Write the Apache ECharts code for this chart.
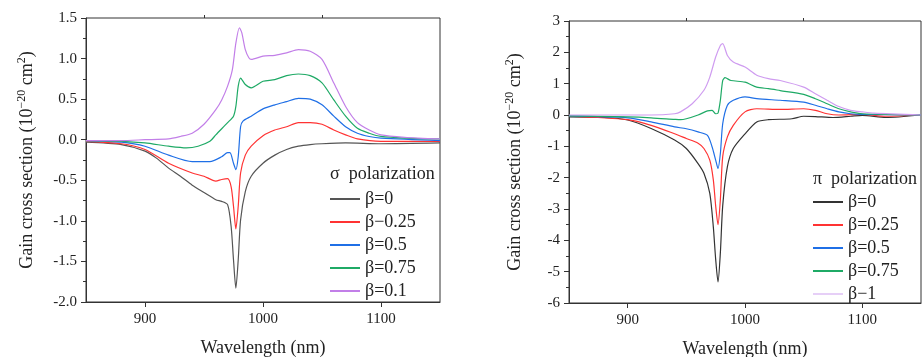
<!DOCTYPE html>
<html><head><meta charset="utf-8">
<script src="https://cdn.jsdelivr.net/npm/echarts@6/dist/echarts.min.js"></script>
<style>html,body{margin:0;padding:0;background:#fff}#c{width:923px;height:357px}</style>
</head><body><div id="c"></div>
<script>
// ---- Left panel (sigma polarization) ----
const sigmaX0 = [850,880,900,910,920,930,940,950,960,965,970,973,975,977,979,981,985,990,1000,1010,1020,1030,1040,1050,1070,1100,1150];
const sigmaB0 = [-0.03,-0.06,-0.14,-0.23,-0.35,-0.45,-0.56,-0.65,-0.74,-0.76,-0.80,-1.07,-1.48,-1.83,-1.48,-0.99,-0.64,-0.45,-0.29,-0.19,-0.12,-0.08,-0.06,-0.05,-0.04,-0.05,-0.04];
const sigmaX25 = [850,880,900,920,940,950,960,965,970,973,975,977,979,981,985,990,1000,1010,1020,1030,1040,1050,1060,1070,1080,1100,1150];
const sigmaB25 = [-0.02,-0.05,-0.12,-0.29,-0.41,-0.45,-0.51,-0.49,-0.48,-0.58,-0.82,-1.10,-0.82,-0.41,-0.19,-0.08,0.05,0.12,0.16,0.21,0.21,0.19,0.12,0.06,0.01,-0.02,-0.02];
const sigmaX50 = [850,880,900,920,940,955,965,970,972,975,977,979,981,983,990,1000,1010,1020,1030,1040,1050,1060,1070,1080,1090,1100,1150];
const sigmaB50 = [-0.01,-0.03,-0.08,-0.19,-0.27,-0.27,-0.21,-0.16,-0.16,-0.29,-0.37,-0.21,0.16,0.23,0.29,0.38,0.43,0.47,0.51,0.50,0.43,0.29,0.16,0.08,0.04,0.02,-0.01];
const sigmaX75 = [850,880,900,920,935,945,955,960,970,975,977,979,981,985,990,1000,1010,1020,1030,1040,1050,1060,1070,1080,1090,1100,1120,1150];
const sigmaB75 = [-0.01,-0.02,-0.04,-0.08,-0.10,-0.08,-0.02,0.06,0.21,0.29,0.41,0.66,0.76,0.68,0.64,0.72,0.74,0.79,0.81,0.79,0.70,0.49,0.29,0.14,0.08,0.04,0.02,0.01];
const sigmaX10 = [850,880,900,920,930,940,950,960,965,970,974,977,980,982,985,988,990,1000,1010,1020,1030,1040,1050,1060,1070,1080,1090,1100,1120,1150];
const sigmaB10 = [-0.01,-0.01,0,0.01,0.04,0.08,0.19,0.37,0.49,0.66,0.86,1.19,1.38,1.32,1.11,1.01,0.99,1.03,1.04,1.07,1.11,1.09,0.99,0.70,0.41,0.21,0.12,0.06,0.03,0.01];

// ---- Right panel (pi polarization) ----
const piX0 = [850,880,900,920,940,950,960,965,970,973,975,977,979,981,985,990,1000,1010,1020,1040,1050,1060,1075,1090,1100,1120,1150];
const piB0 = [-0.06,-0.08,-0.16,-0.43,-0.80,-1.07,-1.55,-1.86,-2.5,-3.57,-4.6,-5.33,-4.4,-2.9,-1.65,-1.07,-0.6,-0.22,-0.15,-0.12,-0.04,-0.05,-0.08,-0.04,-0.01,-0.08,0];
const piX25 = [850,900,920,940,950,960,965,970,973,975,977,979,981,985,990,1000,1010,1030,1050,1060,1070,1080,1100,1120,1150];
const piB25 = [-0.04,-0.15,-0.33,-0.6,-0.75,-0.9,-1.07,-1.44,-2.07,-2.9,-3.5,-2.7,-1.33,-0.7,-0.33,0.1,0.2,0.18,0.2,0.15,0.04,0,0.02,-0.04,0];
const piX50 = [850,900,920,940,950,960,968,972,975,977,979,981,985,990,1000,1010,1030,1050,1060,1070,1080,1090,1100,1150];
const piB50 = [-0.03,-0.09,-0.22,-0.38,-0.44,-0.54,-0.65,-1.02,-1.44,-1.71,-1.23,-0.28,0.31,0.47,0.58,0.52,0.47,0.41,0.31,0.2,0.1,0.04,0.02,0];
const piX75 = [850,900,920,940,945,950,960,968,972,975,977,979,981,983,988,1000,1010,1020,1030,1050,1060,1070,1080,1090,1100,1150];
const piB75 = [-0.03,-0.06,-0.09,-0.14,-0.15,-0.12,0,0.13,0.15,0.04,0.06,0.47,1.1,1.19,1.1,1.05,0.89,0.84,0.78,0.66,0.52,0.36,0.2,0.1,0.04,0];
const piX100 = [850,900,920,940,945,955,965,970,975,979,981,985,990,1000,1010,1020,1030,1050,1060,1070,1080,1090,1100,1110,1150];
const piB100 = [0,0,0,0.04,0.1,0.36,0.79,1.21,1.85,2.22,2.28,1.9,1.69,1.53,1.27,1.16,1.1,0.89,0.68,0.47,0.27,0.15,0.1,0.06,0];

const sigmaNames = ['β=0','β−0.25','β=0.5','β=0.75','β=0.1'];
const piNames = ['β=0','β=0.25','β=0.5','β=0.75','β−1'];
const xTicks = [900,1000,1100];
const xMinorTicks = [950,1050];

const sigmaColors = ['#555555','#ff3333','#1f6fe6','#1faa66','#c27fe8'];
const piColors = ['#333333','#ff3333','#1f6fe6','#1faa66','#cf9cf0'];
const piLegendColors = ['#333333','#ff3333','#1f6fe6','#1faa66','#e6cff7'];

const FONT = "'Liberation Serif', 'Times New Roman', serif";
const zip = (xs, ys) => xs.map((x, i) => [x, ys[i]]);

const sigmaData = [zip(sigmaX0,sigmaB0),zip(sigmaX25,sigmaB25),zip(sigmaX50,sigmaB50),zip(sigmaX75,sigmaB75),zip(sigmaX10,sigmaB10)];
const piData = [zip(piX0,piB0),zip(piX25,piB25),zip(piX50,piB50),zip(piX75,piB75),zip(piX100,piB100)];

const grids = [
  {left:86, top:18, width:354, height:284, show:true, borderColor:'#333', borderWidth:1, containLabel:false, outerBoundsMode:'none'},
  {left:569, top:21, width:352, height:282, show:true, borderColor:'#333', borderWidth:1, containLabel:false, outerBoundsMode:'none'}
];

function xAxes(gi){
  return [{
    type:'value', gridIndex:gi, min:850, max:1150, interval:50,
    axisLine:{onZero:false, lineStyle:{color:'#333',width:1}},
    axisTick:{customValues:xTicks, length:5, lineStyle:{color:'#333'}},
    axisLabel:{customValues:xTicks, formatter:v=>String(v), color:'#222', fontFamily:FONT, fontSize:15, margin:10},
    splitLine:{show:false},
    name:'Wavelength (nm)', nameLocation:'middle', nameGap:37,
    nameTextStyle:{color:'#222', fontFamily:FONT, fontSize:18}
  },{
    type:'value', gridIndex:gi, min:850, max:1150, interval:50,
    axisLine:{show:false, onZero:false},
    axisTick:{customValues:xMinorTicks, length:3, lineStyle:{color:'#333'}},
    axisLabel:{show:false}, splitLine:{show:false}
  }];
}

const yName = '{a|Gain cross section (10}{s|−20}{a| cm}{s|2}{a|)}';
const nameRich = {
  a:{fontFamily:FONT, fontSize:18, color:'#222', lineHeight:20, verticalAlign:'bottom'},
  s:{fontFamily:FONT, fontSize:12, color:'#222', lineHeight:20, verticalAlign:'top'}
};

const option = {
  animation:false,
  backgroundColor:'#fff',
  textStyle:{fontFamily:FONT},
  grid:grids,
  title:[
    {text:'σ  polarization', left:330, top:165, padding:0, textStyle:{fontFamily:FONT, fontSize:18, fontWeight:'normal', color:'#222'}},
    {text:'π  polarization', left:813, top:170, padding:0, textStyle:{fontFamily:FONT, fontSize:18, fontWeight:'normal', color:'#222'}}
  ],
  legend:[
    {orient:'vertical', left:330, top:190, padding:0, itemWidth:30, itemHeight:2, itemGap:5, icon:'rect',
     data:sigmaNames.map(n=>'σ:'+n), formatter:n=>n.split(':')[1],
     textStyle:{fontFamily:FONT, fontSize:18, lineHeight:18, color:'#222'}},
    {orient:'vertical', left:813, top:193, padding:0, itemWidth:30, itemHeight:2, itemGap:5, icon:'rect',
     data:piNames.map((n,i)=>({name:'π:'+n, itemStyle:{color:piLegendColors[i]}})), formatter:n=>n.split(':')[1],
     textStyle:{fontFamily:FONT, fontSize:18, lineHeight:18, color:'#222'}}
  ],
  xAxis:[...xAxes(0), ...xAxes(1)],
  yAxis:[
    {type:'value', gridIndex:0, min:-2.0, max:1.5, interval:0.5,
     axisLine:{show:true, onZero:false, lineStyle:{color:'#333'}},
     axisTick:{show:true, length:5, lineStyle:{color:'#333'}},
     minorTick:{show:true, splitNumber:2, length:3, lineStyle:{color:'#333'}},
     axisLabel:{formatter:v=>v.toFixed(1), color:'#222', fontFamily:FONT, fontSize:15, margin:9},
     splitLine:{show:false},
     name:yName, nameLocation:'middle', nameGap:50, nameRotate:90,
     nameTextStyle:{rich:nameRich}},
    {type:'value', gridIndex:1, min:-6, max:3, interval:1,
     axisLine:{show:true, onZero:false, lineStyle:{color:'#333'}},
     axisTick:{show:true, length:5, lineStyle:{color:'#333'}},
     minorTick:{show:true, splitNumber:2, length:3, lineStyle:{color:'#333'}},
     axisLabel:{color:'#222', fontFamily:FONT, fontSize:15, margin:9},
     splitLine:{show:false},
     name:yName, nameLocation:'middle', nameGap:45, nameRotate:90,
     nameTextStyle:{rich:nameRich}}
  ],
  series:[
    ...sigmaNames.map((n,i)=>({name:'σ:'+n, type:'line', xAxisIndex:0, yAxisIndex:0, data:sigmaData[i],
      symbol:'none', smooth:0.25, lineStyle:{width:1.2, color:sigmaColors[i]}, itemStyle:{color:sigmaColors[i]}, z:2+i})),
    ...piNames.map((n,i)=>({name:'π:'+n, type:'line', xAxisIndex:2, yAxisIndex:1, data:piData[i],
      symbol:'none', smooth:0.25, lineStyle:{width:1.2, color:piColors[i]}, itemStyle:{color:piColors[i]}, z:2+i}))
  ]
};
const chart = echarts.init(document.getElementById('c'), null, {renderer:'canvas'});
chart.setOption(option);
</script></body></html>
